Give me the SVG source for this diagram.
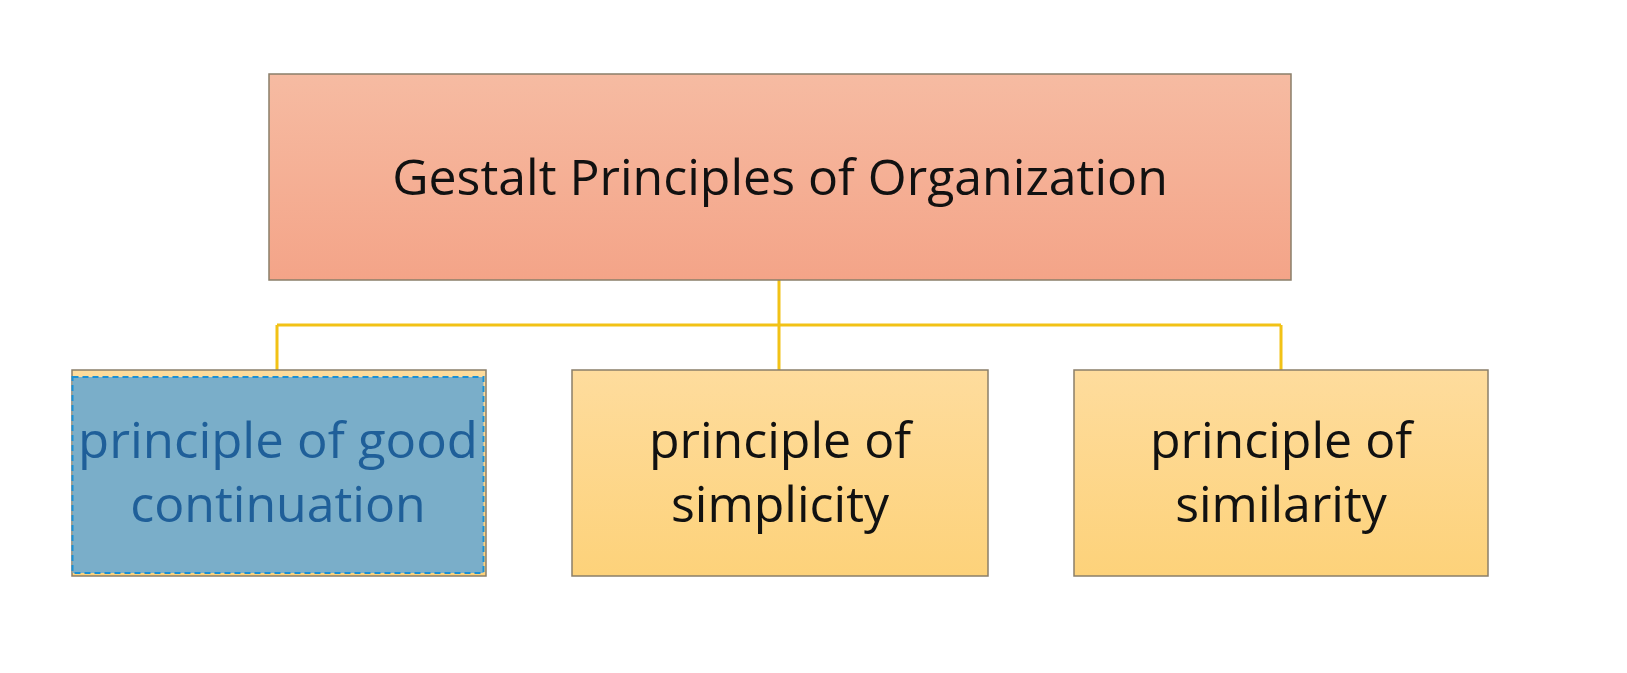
<svg xmlns="http://www.w3.org/2000/svg" width="1627" height="673" viewBox="0 0 1627 673">
<defs>
<linearGradient id="gTop" x1="0" y1="0" x2="0" y2="1"><stop offset="0" stop-color="#f6bba2"/><stop offset="1" stop-color="#f4a488"/></linearGradient>
<linearGradient id="gY" x1="0" y1="0" x2="0" y2="1"><stop offset="0" stop-color="#fedc9d"/><stop offset="1" stop-color="#fdd27a"/></linearGradient>
</defs>
<style>
.box{stroke:#8a7f6a;stroke-width:1.5}
.t{font-family:"Open Sans","Noto Sans",sans-serif;fill:#111;text-anchor:middle}
.c{stroke:#f2c216;stroke-width:3;fill:none}
</style>
<rect width="1627" height="673" fill="#fff"/>
<g id="connectors">
<path class="c" d="M779 280V370M277 325H1281M277 325V370M1281 325V370"/>
</g>
<g id="root">
<rect class="box" x="269" y="74" width="1022" height="206" fill="url(#gTop)"/>
<text class="t" x="780" y="195" font-size="50">Gestalt Principles of Organization</text>
</g>
<g id="n1">
<rect class="box" x="72" y="370" width="414" height="206" fill="url(#gY)"/>
<rect x="72.5" y="377" width="411" height="196" fill="#7aaec9" stroke="#1a90d6" stroke-width="2" stroke-dasharray="6,4"/>
<text class="t" x="278" y="458" font-size="50" style="fill:#1f5f99" textLength="400" lengthAdjust="spacingAndGlyphs">principle of good</text>
<text class="t" x="278" y="522" font-size="50" style="fill:#1f5f99">continuation</text>
</g>
<g id="n2">
<rect class="box" x="572" y="370" width="416" height="206" fill="url(#gY)"/>
<text class="t" x="780" y="458" font-size="50">principle of</text>
<text class="t" x="780" y="522" font-size="50">simplicity</text>
</g>
<g id="n3">
<rect class="box" x="1074" y="370" width="414" height="206" fill="url(#gY)"/>
<text class="t" x="1281" y="458" font-size="50">principle of</text>
<text class="t" x="1281" y="522" font-size="50">similarity</text>
</g>
</svg>
